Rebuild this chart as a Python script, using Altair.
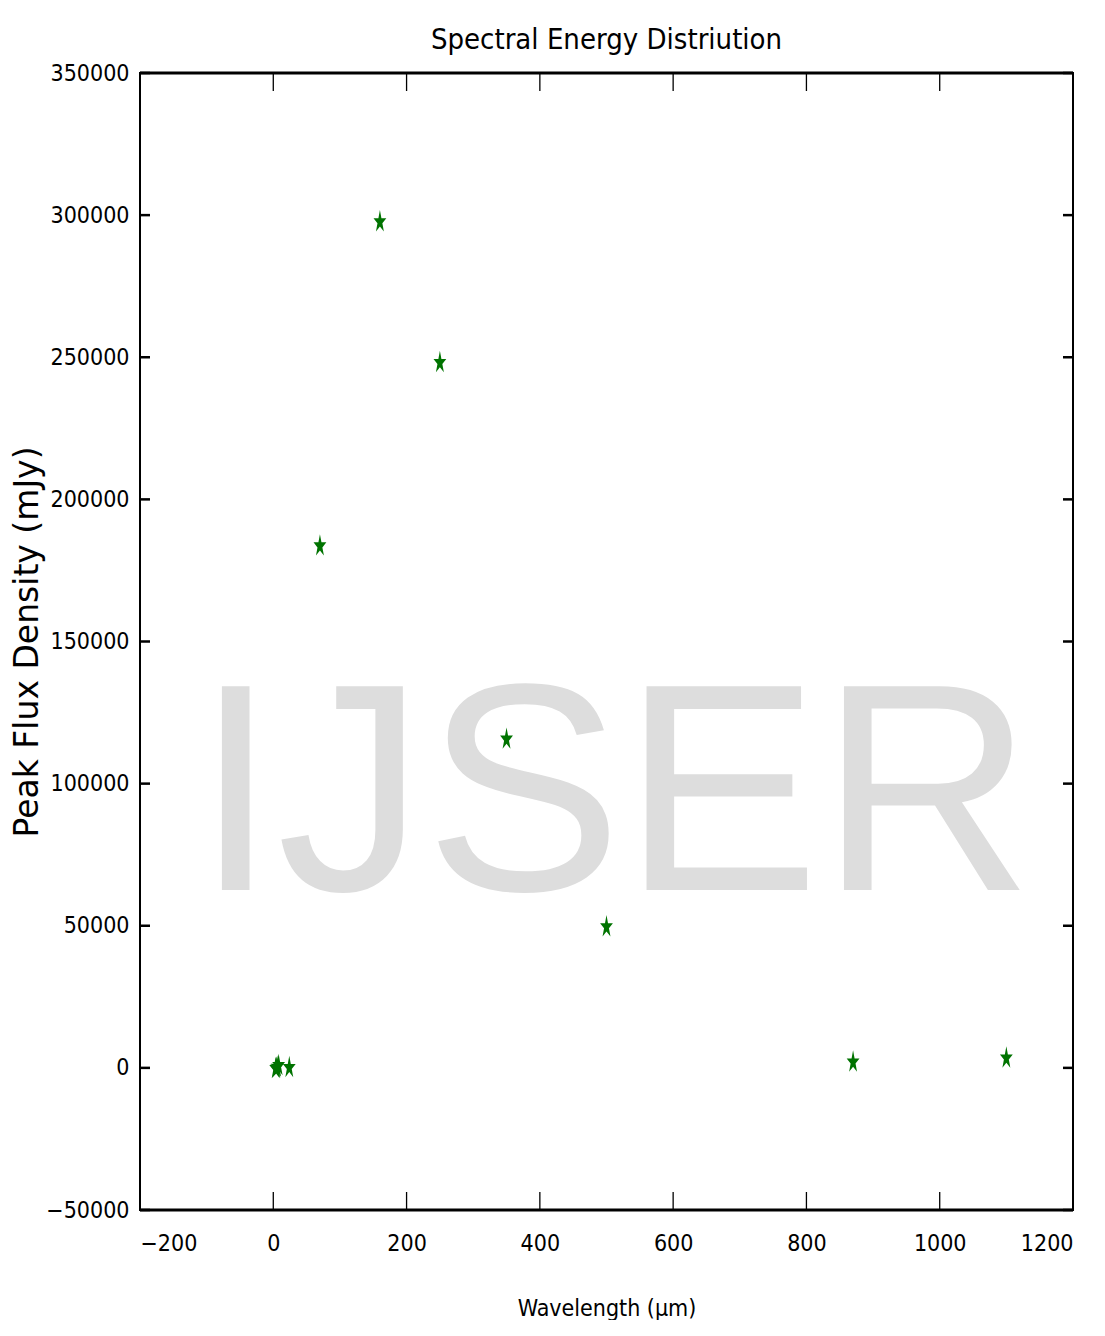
import altair as alt
import pandas as pd

# ---- data ----
wavelength_um = [3.6, 4.5, 5.8, 8.0, 24, 70, 160, 250, 350, 500, 870, 1100]
peak_flux_mjy = [150, 250, 600, 1200, 500, 184000, 298000, 248500, 116000, 50000, 2400, 3800]
x_ticks = [-200, 0, 200, 400, 600, 800, 1000, 1200]
y_ticks = [-50000, 0, 50000, 100000, 150000, 200000, 250000, 300000, 350000]
title_text = "Spectral Energy Distriution"
x_title = "Wavelength (μm)"
y_title = "Peak Flux Density (mJy)"
watermark = "IJSER"

W, H = 933, 1137
COND = "DejaVu Sans Condensed"

# five-point star, vertically stretched like the reference marker
STAR = ("M0,-0.9045L0.128,-0.2135L0.542,-0.2135L0.207,0.2135L0.335,0.9045"
        "L0,0.4775L-0.335,0.9045L-0.207,0.2135L-0.542,-0.2135L-0.128,-0.2135Z")

pts = pd.DataFrame({"wl": wavelength_um, "flux": peak_flux_mjy})
xt = pd.DataFrame({"xt": x_ticks})
yt = pd.DataFrame({"yt": y_ticks})
one = pd.DataFrame({"a": [1]})

xscale = alt.Scale(domain=[x_ticks[0], x_ticks[-1]], nice=False, zero=False)
yscale = alt.Scale(domain=[y_ticks[0], y_ticks[-1]], nice=False, zero=False)

xaxis = alt.Axis(values=x_ticks, format="d", grid=False, domain=False, ticks=False,
                 labelFont=COND, labelFontSize=23, labelColor="black", labelPadding=22,
                 title=x_title, titleFont=COND, titleFontSize=23, titleFontWeight="normal",
                 titleColor="black", titleX=W / 2, titleY=98, titleBaseline="middle",
                 titleAlign="center")
yaxis = alt.Axis(values=y_ticks, format="d", grid=False, domain=False, ticks=False,
                 labelFont=COND, labelFontSize=23, labelColor="black", labelPadding=11,
                 title=y_title, titleFont="DejaVu Sans", titleFontSize=33,
                 titleFontWeight="normal", titleColor="black", titleAngle=270,
                 titleX=-113, titleY=H / 2, titleBaseline="middle", titleAlign="center")

wm = alt.Chart(one).mark_text(
    text=watermark, font="Liberation Sans", fontSize=296, color="#dddddd",
    align="center", baseline="alphabetic"
).encode(x=alt.value(474), y=alt.value(817))

stars = alt.Chart(pts).mark_point(
    shape=STAR, filled=True, size=560, color="#007300", opacity=1
).encode(
    x=alt.X("wl:Q", scale=xscale, axis=xaxis),
    y=alt.Y("flux:Q", scale=yscale, axis=yaxis),
)

tick_bottom = alt.Chart(xt).mark_rule(color="black", strokeWidth=1.3).encode(
    x=alt.X("xt:Q", scale=xscale, axis=xaxis), y=alt.value(H), y2=alt.value(H - 18))
tick_top = alt.Chart(xt).mark_rule(color="black", strokeWidth=1.3).encode(
    x=alt.X("xt:Q", scale=xscale, axis=xaxis), y=alt.value(0), y2=alt.value(18))
tick_left = alt.Chart(yt).mark_rule(color="black", strokeWidth=2.5).encode(
    y=alt.Y("yt:Q", scale=yscale, axis=yaxis), x=alt.value(0), x2=alt.value(10))
tick_right = alt.Chart(yt).mark_rule(color="black", strokeWidth=2.5).encode(
    y=alt.Y("yt:Q", scale=yscale, axis=yaxis), x=alt.value(W - 10), x2=alt.value(W))

frame_top = alt.Chart(one).mark_rule(color="black", strokeWidth=3).encode(
    x=alt.value(0), x2=alt.value(W), y=alt.value(0))
frame_bottom = alt.Chart(one).mark_rule(color="black", strokeWidth=3).encode(
    x=alt.value(0), x2=alt.value(W), y=alt.value(H))

chart = alt.layer(
    wm, stars, tick_bottom, tick_top, tick_left, tick_right, frame_top, frame_bottom
).properties(
    width=W, height=H,
    title=alt.TitleParams(title_text, font=COND, fontSize=29, fontWeight="normal",
                          color="black", anchor="middle", offset=7),
    autosize=alt.AutoSizeParams(type="none"),
    padding={"left": 132, "top": 65, "right": 16, "bottom": 110},
    background="white",
).configure_view(
    stroke="black", strokeWidth=2
)

chart.save("out.html", embed_options={"renderer": "svg", "actions": False})
